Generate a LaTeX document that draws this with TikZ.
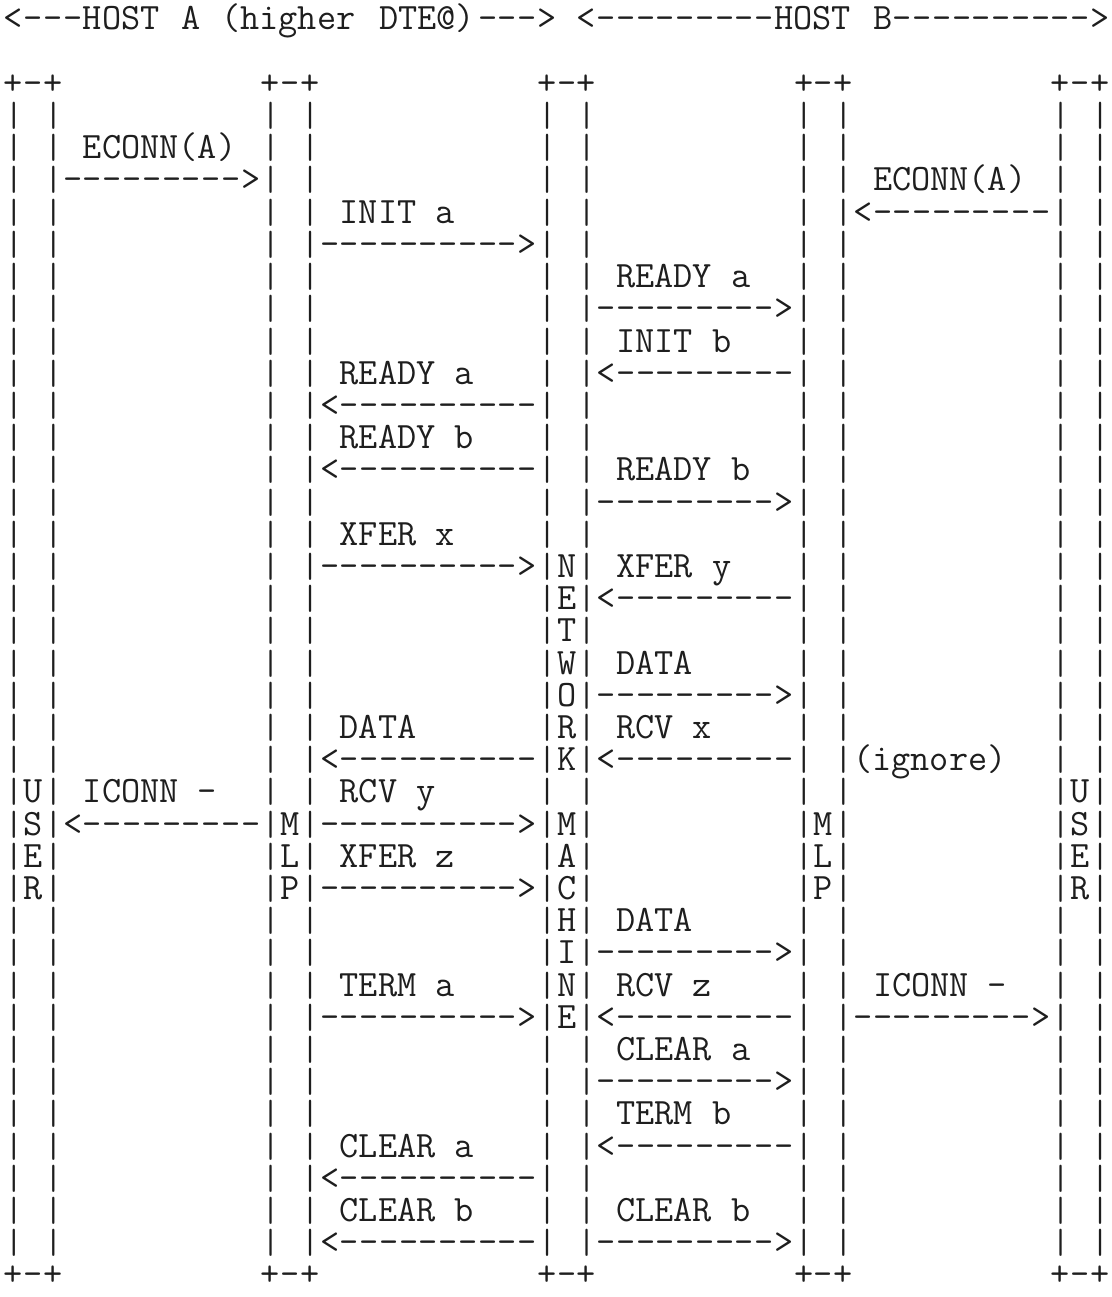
\documentclass[tikz,border=0pt]{standalone}
\usepackage{tikz}
\usetikzlibrary{positioning}
\definecolor{ink}{HTML}{1E1E1E}

% one dash per cell, so no -- ligatures
\newcommand{\msgright}[4]{%
  \pgfmathtruncatemacro{\lastdash}{#4-1}%
  \foreach \c in {#3,...,\lastdash}
    \node[typed] (#1-\c) at (\c,#2) {-};
  \node[typed] (#1-head) at (#4,#2) {>};
}
\newcommand{\msgleft}[4]{%
  \node[typed] (#1-head) at (#3,#2) {<};
  \pgfmathtruncatemacro{\firstdash}{#3+1}%
  \foreach \c in {\firstdash,...,#4}
    \node[typed] (#1-\c) at (\c,#2) {-};
}

\begin{document}
\begin{tikzpicture}[x=9.875pt, y=-16.1pt,
    typed/.style={anchor=base west, inner sep=0pt, outer sep=0pt, text=ink,
      font=\ttfamily\fontsize{18.6}{18.6}\selectfont},
    barglyph/.style={typed, anchor=base,
      font=\ttfamily\fontsize{17.5}{17.5}\selectfont}]
  \useasboundingbox (-0.2025,-0.9317) rectangle (56.10,39.348);

  % header line
  \msgleft{hosta}{0}{0}{3}
  \node[typed] (hosta1) at (4,0) {HOST};
  \node[typed] (hosta2) at (9,0) {A};
  \node[typed] (hosta3) at (11,0) {(higher};
  \node[typed] (hosta4) at (19,0) {DTE@)};
  \msgright{hostaend}{0}{24}{27}
  \msgleft{hostb}{0}{29}{38}
  \node[typed] (hostb1) at (39,0) {HOST};
  \node[typed] (hostb2) at (44,0) {B};
  \msgright{hostbend}{0}{45}{55}

  % the five columns
  \foreach \c in {0,13,27,40,53}
    \foreach \L in {2,39} {
      \node[typed] (capl-\c-\L) at (\c,\L) {+};
      \node[typed] (capm-\c-\L) at (\c+1,\L) {-};
      \node[typed] (capr-\c-\L) at (\c+2,\L) {+};
    }
  \foreach \c in {0,2,13,15,27,29,40,42,53,55}
    \foreach \L in {3,...,38}
      \node[barglyph] (bar-\c-\L) at (\c+.5,\L) {|};

  \foreach \ch [count=\i from 24] in {U,S,E,R} {
    \node[typed] (usera-\i) at (1,\i) {\ch};
    \node[typed] (userb-\i) at (54,\i) {\ch};
  }
  \foreach \ch [count=\i from 25] in {M,L,P} {
    \node[typed] (mlpa-\i) at (14,\i) {\ch};
    \node[typed] (mlpb-\i) at (41,\i) {\ch};
  }
  \foreach \ch [count=\i from 17] in {N,E,T,W,O,R,K}
    \node[typed] (net-\i) at (28,\i) {\ch};
  \foreach \ch [count=\i from 25] in {M,A,C,H,I,N,E}
    \node[typed] (mach-\i) at (28,\i) {\ch};

  % messages
  \node[typed] (econna) at (4,4) {ECONN(A)};
  \msgright{econnaarr}{5}{3}{12}
  \node[typed] (econnb) at (44,5) {ECONN(A)};
  \msgleft{econnbarr}{6}{43}{52}
  \node[typed] (inita) at (17,6) {INIT a};
  \msgright{initaarr}{7}{16}{26}
  \node[typed] (readyab) at (31,8) {READY a};
  \msgright{readyabarr}{9}{30}{39}
  \node[typed] (initb) at (31,10) {INIT b};
  \msgleft{initbarr}{11}{30}{39}
  \node[typed] (readyaa) at (17,11) {READY a};
  \msgleft{readyaaarr}{12}{16}{26}
  \node[typed] (readyba) at (17,13) {READY b};
  \msgleft{readybaarr}{14}{16}{26}
  \node[typed] (readybb) at (31,14) {READY b};
  \msgright{readybbarr}{15}{30}{39}
  \node[typed] (xferx) at (17,16) {XFER x};
  \msgright{xferxarr}{17}{16}{26}
  \node[typed] (xfery) at (31,17) {XFER y};
  \msgleft{xferyarr}{18}{30}{39}
  \node[typed] (datab) at (31,20) {DATA};
  \msgright{databarr}{21}{30}{39}
  \node[typed] (dataa) at (17,22) {DATA};
  \node[typed] (rcvx) at (31,22) {RCV x};
  \msgleft{dataaarr}{23}{16}{26}
  \msgleft{rcvxarr}{23}{30}{39}
  \node[typed] (ignore) at (43,23) {(ignore)};
  \node[typed] (iconna) at (4,24) {ICONN -};
  \node[typed] (rcvy) at (17,24) {RCV y};
  \msgleft{iconnaarr}{25}{3}{12}
  \msgright{rcvyarr}{25}{16}{26}
  \node[typed] (xferz) at (17,26) {XFER z};
  \msgright{xferzarr}{27}{16}{26}
  \node[typed] (datac) at (31,28) {DATA};
  \msgright{datacarr}{29}{30}{39}
  \node[typed] (terma) at (17,30) {TERM a};
  \node[typed] (rcvz) at (31,30) {RCV z};
  \node[typed] (iconnb) at (44,30) {ICONN -};
  \msgright{termaarr}{31}{16}{26}
  \msgleft{rcvzarr}{31}{30}{39}
  \msgright{iconnbarr}{31}{43}{52}
  \node[typed] (clearab) at (31,32) {CLEAR a};
  \msgright{clearabarr}{33}{30}{39}
  \node[typed] (termb) at (31,34) {TERM b};
  \node[typed] (clearaa) at (17,35) {CLEAR a};
  \msgleft{termbarr}{35}{30}{39}
  \msgleft{clearaaarr}{36}{16}{26}
  \node[typed] (clearba) at (17,37) {CLEAR b};
  \node[typed] (clearbb) at (31,37) {CLEAR b};
  \msgleft{clearbaarr}{38}{16}{26}
  \msgright{clearbbarr}{38}{30}{39}
\end{tikzpicture}
\end{document}
